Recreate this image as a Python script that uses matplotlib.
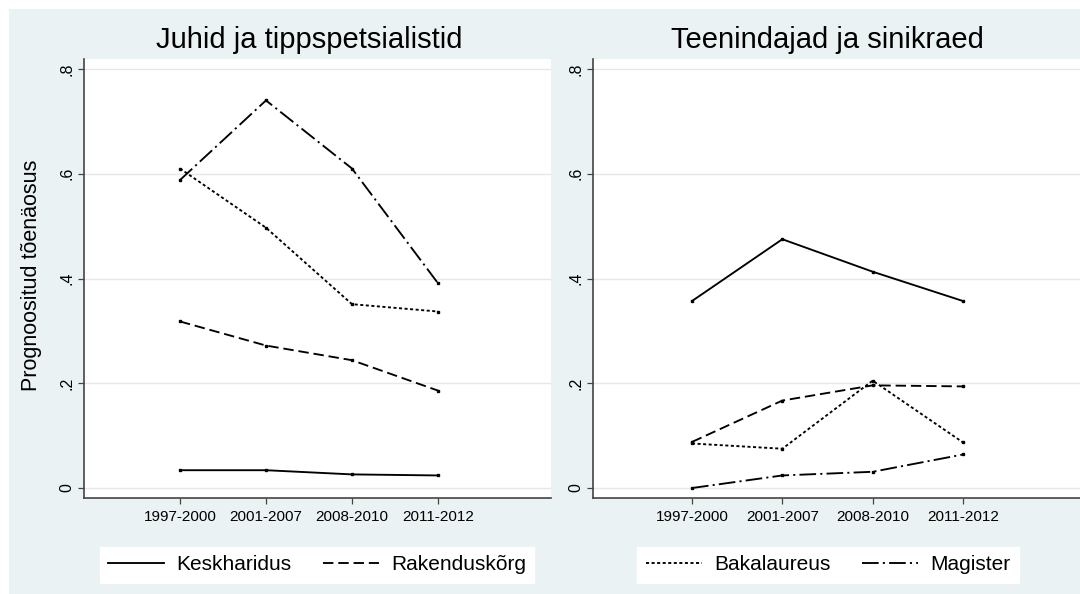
import matplotlib.pyplot as plt
from matplotlib.patches import Rectangle

plt.rcParams['font.family'] = ['Liberation Sans', 'DejaVu Sans']
plt.rcParams['lines.scale_dashes'] = False

# andmed
periods = ['1997-2000', '2001-2007', '2008-2010', '2011-2012']
x = [1, 2, 3, 4]
series = ['Keskharidus', 'Rakenduskõrg', 'Bakalaureus', 'Magister']

juhid = {
    'Keskharidus': [0.034, 0.034, 0.026, 0.024],
    'Rakenduskõrg': [0.318, 0.272, 0.244, 0.186],
    'Bakalaureus': [0.610, 0.497, 0.351, 0.337],
    'Magister': [0.588, 0.740, 0.610, 0.391],
}
teenindajad = {
    'Keskharidus': [0.357, 0.475, 0.413, 0.357],
    'Rakenduskõrg': [0.088, 0.167, 0.196, 0.194],
    'Bakalaureus': [0.085, 0.075, 0.205, 0.087],
    'Magister': [0.000, 0.024, 0.031, 0.064],
}

styles = {
    'Keskharidus': '-',
    'Rakenduskõrg': (0, (7.5, 3.5)),
    'Bakalaureus': (0, (2.2, 1.8)),
    'Magister': (0, (12, 3, 1.5, 3)),
}

bg = '#EAF2F3'
W, H = 1080, 594

fig = plt.figure(figsize=(10.8, 5.94), dpi=100)
fig.patches.append(Rectangle((9 / W, 0), 1, 1 - 9 / H, transform=fig.transFigure,
                             facecolor=bg, edgecolor='none', zorder=-10))


def px(x0, x1, y0, y1):
    return [x0 / W, 1 - y1 / H, (x1 - x0) / W, (y1 - y0) / H]


def panel(rect, xlim, data, title, title_x, legend_items, legend_x):
    ax = fig.add_axes(rect)
    ax.set_facecolor('white')
    for name in series:
        ax.plot(x, data[name], color='black', lw=1.35, linestyle=styles[name],
                marker='s', markersize=1.6, label=name)
    ax.set_xlim(*xlim)
    ax.set_ylim(-0.0181, 0.8191)
    ax.set_yticks([0, 0.2, 0.4, 0.6, 0.8])
    ax.set_yticklabels(['0', '.2', '.4', '.6', '.8'], rotation=90, va='center')
    ax.set_xticks(x)
    ax.set_xticklabels(periods)
    ax.grid(axis='y', color='#E4E8E8', lw=1.0)
    ax.set_axisbelow(True)
    for s in ['top', 'right']:
        ax.spines[s].set_visible(False)
    for s in ['left', 'bottom']:
        ax.spines[s].set_color('#444444')
        ax.spines[s].set_linewidth(1.2)
    ax.tick_params(axis='y', length=4, width=0.9, color='#444444', labelsize=11.5, pad=3)
    ax.tick_params(axis='x', length=4, width=0.9, color='#444444', labelsize=11, pad=5)
    fig.text(title_x / W, 1 - 40 / H, title, ha='center', va='center', fontsize=21)
    handles, labels = ax.get_legend_handles_labels()
    sel = [handles[labels.index(n)] for n in legend_items]
    leg = fig.legend(sel, legend_items, loc='center', ncol=2,
                     bbox_to_anchor=(legend_x / W, 1 - 565 / H),
                     fontsize=15, frameon=True, fancybox=False, framealpha=1,
                     edgecolor='white', facecolor='white',
                     handlelength=2.7, handletextpad=0.58, columnspacing=1.5,
                     borderpad=0.4, borderaxespad=0)
    for line in leg.get_lines():
        line.set_marker('')
        line.set_linewidth(1.35)
    return ax


# vasak paneel
ax1 = panel(px(84, 551, 59, 497.5), (-0.116, 5.314), juhid,
            'Juhid ja tippspetsialistid', 309, ['Keskharidus', 'Rakenduskõrg'], 317)
ax1.set_ylabel('Prognoositud tõenäosus', fontsize=15.5)
ax1.yaxis.set_label_coords(42 / W, 1 - 275 / H, transform=fig.transFigure)

# parem paneel: sinine taust katab vasaku paneeli parema serva
fig.patches.append(Rectangle((551 / W, 0), 1, 1 - 9 / H, transform=fig.transFigure,
                             facecolor=bg, edgecolor='none', zorder=-5))
ax2 = panel(px(593, 1080, 59, 497.5), (-0.096, 5.295), teenindajad,
            'Teenindajad ja sinikraed', 827, ['Bakalaureus', 'Magister'], 828)

fig.savefig('out.png', dpi=100)
